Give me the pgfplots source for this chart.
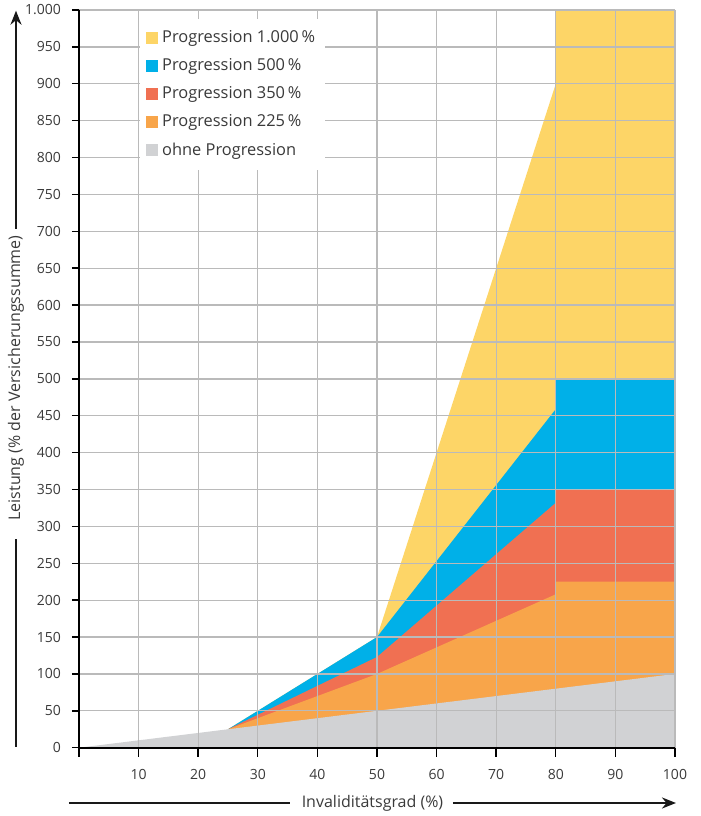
\documentclass[border=0pt]{standalone}
\usepackage{pgfplots}
\pgfplotsset{compat=1.18}
\usepackage{fontspec}
\setmainfont{Open Sans}
\usetikzlibrary{arrows.meta}
\definecolor{cyellow}{HTML}{FDD567}
\definecolor{cblue}{HTML}{00B0E8}
\definecolor{cred}{HTML}{F07052}
\definecolor{corange}{HTML}{F8A54A}
\definecolor{cgray}{HTML}{D1D2D4}
\definecolor{ctext}{HTML}{3A3A3A}
\begin{document}
\begin{tikzpicture}
\begin{axis}[
  at={(0,0)}, anchor=south west,
  scale only axis, width=298pt, height=368.85pt,
  xmin=0, xmax=100, ymin=0, ymax=1000,
  axis on top,
  axis x line=bottom, axis y line=left,
  axis line style={-, line width=0.8pt, black},
  xtick={0,10,...,100},
  xticklabels={,10,20,30,40,50,60,70,80,90,100},
  ytick={0,50,...,1000},
  tick align=outside,
  major tick length=3.5pt,
  tick style={black, line width=0.7pt},
  xtick style={/pgfplots/major tick length=4.5pt},
  grid=major,
  major grid style={draw=black!27, line width=0.65pt},
  /pgf/number format/assume math mode=true,
  /pgf/number format/1000 sep={.},
  ticklabel style={font=\fontsize{7}{8}\selectfont, text=ctext},
  xticklabel style={yshift=-4pt},
  yticklabel style={xshift=-2pt},
  legend style={at={(0.102,0.989)}, anchor=north west, draw=none, fill=white,
    font=\fontsize{8.2}{9}\selectfont, text=ctext, row sep=2.5pt,
    inner xsep=3pt, inner ysep=4pt, cells={anchor=west}},
  legend image code/.code={\fill[#1] (0pt,-3pt) rectangle (6pt,3pt);},
]
\addplot[fill=cyellow, draw=none] coordinates {(25,0) (25,25) (50,150) (80,900) (80,1000) (100,1000) (100,0)} -- cycle;
\addlegendentry{Progression 1.000\,\%}
\addplot[fill=cblue, draw=none] coordinates {(25,0) (25,25) (50,150) (80,459) (80,500) (100,500) (100,0)} -- cycle;
\addlegendentry{Progression 500\,\%}
\addplot[fill=cred, draw=none] coordinates {(25,0) (25,25) (50,123) (80,332) (80,350) (100,350) (100,0)} -- cycle;
\addlegendentry{Progression 350\,\%}
\addplot[fill=corange, draw=none] coordinates {(25,0) (25,25) (50,100) (80,208) (80,225) (100,225) (100,0)} -- cycle;
\addlegendentry{Progression 225\,\%}
\addplot[fill=cgray, draw=none] coordinates {(0,0) (100,100) (100,0)} -- cycle;
\addlegendentry{ohne Progression}
\end{axis}
% axis labels with arrows
\draw[line width=1.2pt, black!90] (-31.5pt,0.35pt) -- (-31.5pt,104.35pt);
\draw[line width=1.2pt, black!90, -{Stealth[length=7pt,width=5.5pt]}] (-31.5pt,259.35pt) -- (-31.5pt,368.5pt);
\node[rotate=90, font=\fontsize{8}{9}\selectfont, text=ctext] at (-31.5pt,184.85pt) {Leistung (\% der Versicherungssumme)};
\draw[line width=1.2pt, black!90] (-5pt,-27.65pt) -- (105.5pt,-27.65pt);
\draw[line width=1.2pt, black!90, -{Stealth[length=7pt,width=5.5pt]}] (187pt,-27.65pt) -- (298.5pt,-27.65pt);
\node[font=\fontsize{8}{9}\selectfont, text=ctext] at (146.75pt,-27.65pt) {Invaliditätsgrad (\%)};
\pgfresetboundingbox
\useasboundingbox (-39.5pt,-34.15pt) rectangle (311pt,373.85pt);
\end{tikzpicture}
\end{document}
